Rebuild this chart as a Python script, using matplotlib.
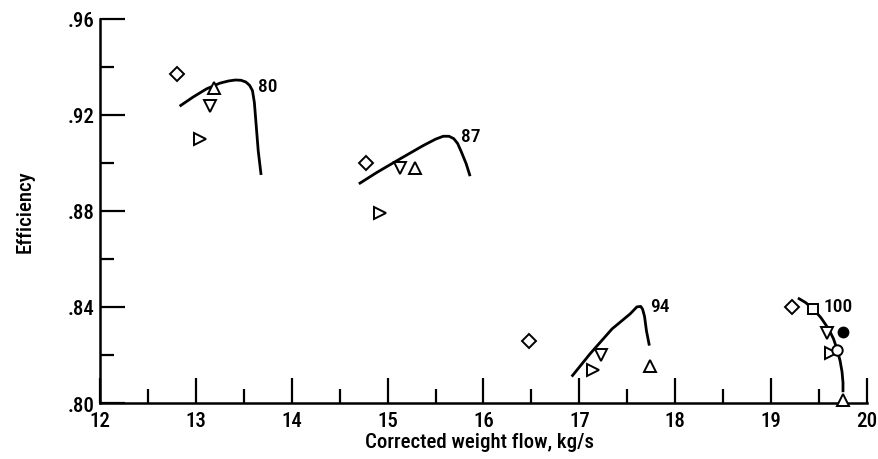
import matplotlib
matplotlib.use("Agg")
import matplotlib.pyplot as plt
from matplotlib.ticker import MultipleLocator, FixedLocator

plt.rcParams['font.family'] = ['Roboto Condensed', 'DejaVu Sans']
plt.rcParams['font.weight'] = 'medium'
plt.rcParams['axes.labelweight'] = 'medium'

# speed lines (percent design speed)
speed_labels = ["80", "87", "94", "100"]
line80_x = [12.83, 12.97, 13.11, 13.25, 13.34, 13.41, 13.47, 13.52, 13.56, 13.59, 13.61, 13.63, 13.65, 13.68]
line80_y = [0.9235, 0.9273, 0.9307, 0.9331, 0.9340, 0.9344, 0.9343, 0.9336, 0.9322, 0.9300, 0.9250, 0.9150, 0.9050, 0.8949]
line87_x = [14.70, 14.89, 15.13, 15.37, 15.50, 15.58, 15.64, 15.69, 15.73, 15.77, 15.82, 15.86]
line87_y = [0.8912, 0.8960, 0.9016, 0.9071, 0.9098, 0.9110, 0.9110, 0.9100, 0.9080, 0.9044, 0.8995, 0.8944]
line94_x = [16.92, 17.11, 17.34, 17.53, 17.60, 17.64, 17.66, 17.68, 17.70, 17.73]
line94_y = [0.8110, 0.8204, 0.8308, 0.8371, 0.8400, 0.8402, 0.8390, 0.8360, 0.8300, 0.8239]
line100_x = [19.28, 19.36, 19.44, 19.52, 19.60, 19.65, 19.69, 19.72, 19.74, 19.75, 19.75]
line100_y = [0.8437, 0.8418, 0.8391, 0.8355, 0.8308, 0.8268, 0.8222, 0.8175, 0.8130, 0.8085, 0.8045]
label_x = [13.65, 15.77, 17.74, 19.55]
label_y = [0.932, 0.9112, 0.8404, 0.8404]

# measured points by symbol
diamond_x = [12.80, 14.77, 16.47, 19.22]
diamond_y = [0.937, 0.900, 0.826, 0.840]
up_x = [13.19, 15.29, 17.74, 19.75]
up_y = [0.931, 0.898, 0.8154, 0.8012]
down_x = [13.15, 15.13, 17.23, 19.58]
down_y = [0.9236, 0.898, 0.820, 0.829]
right_x = [13.04, 14.92, 17.14, 19.63]
right_y = [0.910, 0.879, 0.8137, 0.821]
square_x = [19.44]
square_y = [0.839]
circle_x = [19.69]
circle_y = [0.822]
filled_x = [19.75]
filled_y = [0.8296]

fig = plt.figure(figsize=(8.79, 4.60), dpi=100)
ax = fig.add_axes([0.1138, 0.1217, 0.8725, 0.8359])

for lx, ly in [(line80_x, line80_y), (line87_x, line87_y),
               (line94_x, line94_y), (line100_x, line100_y)]:
    ax.plot(lx, ly, color='black', lw=2.0, solid_joinstyle='round',
            solid_capstyle='butt')

mk = dict(linestyle='none', mfc='white', mec='black', mew=1.4, clip_on=False, zorder=3)
ax.plot(diamond_x, diamond_y, marker='D', ms=7.5, **mk)
ax.plot(up_x, up_y, marker='^', ms=8.5, **mk)
ax.plot(down_x, down_y, marker='v', ms=8.5, **mk)
ax.plot(right_x, right_y, marker='>', ms=8.5, **mk)
ax.plot(square_x, square_y, marker='s', ms=7.5, **mk)
ax.plot(circle_x, circle_y, marker='o', ms=7.5, **mk)
ax.plot(filled_x, filled_y, marker='o', ms=7.5, linestyle='none',
        color='black', zorder=3)

for t, x, y in zip(speed_labels, label_x, label_y):
    ax.text(x, y, t, ha='left', va='center', fontsize=14)

ax.set_xlim(12, 20)
ax.set_ylim(0.80, 0.96)
ax.spines['top'].set_visible(False)
ax.spines['right'].set_visible(False)
ax.spines['left'].set_linewidth(1.8)
ax.spines['bottom'].set_linewidth(1.8)

ax.xaxis.set_major_locator(MultipleLocator(1))
ax.xaxis.set_minor_locator(MultipleLocator(0.5))
ax.yaxis.set_major_locator(FixedLocator([0.80, 0.84, 0.88, 0.92, 0.96]))
ax.yaxis.set_minor_locator(FixedLocator([0.82, 0.86, 0.90, 0.94]))
ax.set_yticklabels(['.80', '.84', '.88', '.92', '.96'])

ax.tick_params(which='major', direction='in', length=18, width=1.6,
               labelsize=15, pad=4)
ax.tick_params(axis='x', which='major', pad=6)
ax.tick_params(which='minor', direction='in', length=10, width=1.6)

ax.set_xlabel('Corrected weight flow, kg/s', fontsize=15)
ax.set_ylabel('Efficiency', fontsize=15)
ax.xaxis.set_label_coords(0.495, -0.075)
ax.yaxis.set_label_coords(-0.085, 0.5)

fig.savefig('out.png', dpi=100)
